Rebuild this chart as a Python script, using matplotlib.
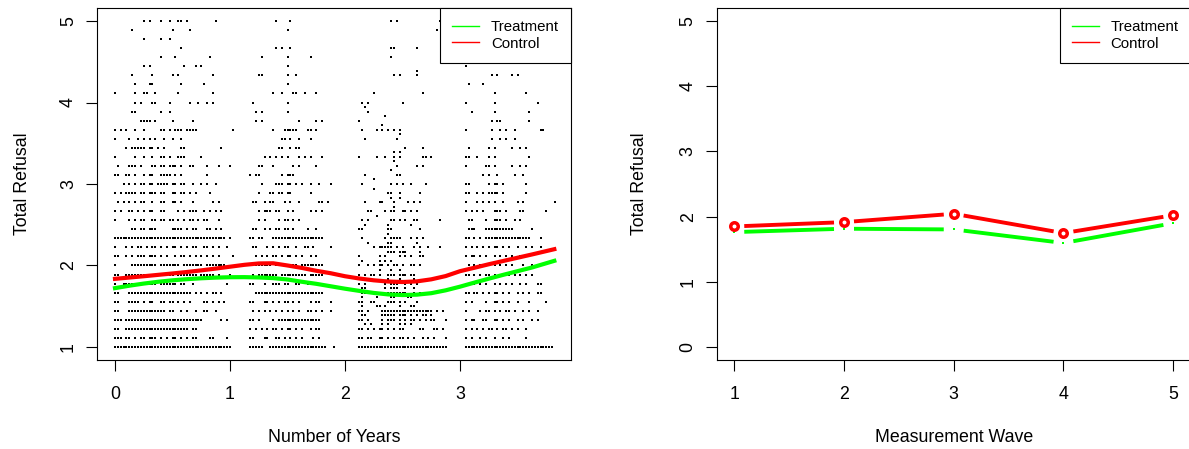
import numpy as np
import matplotlib
matplotlib.use("Agg")
import matplotlib.pyplot as plt
from matplotlib.lines import Line2D

plt.rcParams['font.family'] = ['Liberation Sans', 'DejaVu Sans']

# ---- left panel: individual scores ----
# key k -> Total Refusal = 1 + k/9 ; columns c -> Number of Years = c/40
scatter_rows = {
    36: "10 12 16 19 22 23 25 35 56 61 96 98 113",
    35: "6 20 26 60 112",
    34: "10 16 19",
    33: "23 56 58 61 96 97 105",
    32: "16 21 33 51 60 68 96",
    31: "10 12 24 28 30 60 122",
    30: "6 13 20 22 34 50 51 60 63 97 99 105 131 133 138 140",
    29: "7 12 13 23 31 60 123 128",
    28: "0 7 10 11 14 22 34 55 58 62 63 66 70 90 107 132 143",
    27: "7 9 13 14 19 26 29 32 34 48 60 86 88 100 122 132 147",
    26: "6 7 16 19 49 51 60 88 124 132 144",
    25: "9-12 14 20 27 49 51 64 70 72 85 131 133 134 144",
    24: "0 2 4 7 10 16 17 19 21-23 25-28 41 55 59-63 67 68 70 86 91 93 95 97 99 122 131 134 136 139 148 149",
    23: "0 5 8 10 12 14 17 20 23 58 59 61 64 68 87 98 131 134 136 139",
    22: "4 6-10 12 13 15 17 23 24 37 57 58 61 63 64 101 107 123 130 132 138 141 143",
    21: "0 7 10 13 16 17 19 22-24 30 52 54 56 58 60 64 66 68 72 85 91 94 97 99 107 108 110 122 123 126 130 132 144",
    20: "1 5 6 7 9 13 14 16 17 19-21 23 26 27 32 36 40 50 51 55 62 64 70 98 105 107 122 129 130 132 138 141 143",
    19: "0 1 4 5 7 10 12 13 16-19 21 23 32 47 49 50 58 60-62 87 98 99 128 130 133 139 142",
    18: "3 5 7 9 10 12 13 15-18 20 21 23 24 27 30 32 35 51 56-58 60 61 63 65 68 71 75 86 96 98 100 103 108 122 123 130 132 133 135 143",
    17: "0 2 4-7 9 10 12-14 16 17 20 21 23 24 26 28 33 50 54 55 57 58 60 61 68 95 96 99 106 122 123 126 128 130-133 135 143",
    16: "1 3 5 7 9 10 13 16 17 20 21 23 27 34 36 48 49 52 54 55 59 61 64 71 72 74 87 92 93 97 102 104 106 122 126 128 130 132 135 140 142 153",
    15: "0 2 5 6 8 10 12 13 16 17 22 24 26-28 31 33 35 37 50 52-54 56 57 60 62 68 70 72 88 89 94 96 97 100 101 103 105 122 124 126 128 132-134 136 141 142 150",
    14: "0 5 7 9 10 13 14 16 17 19 20 22 24 26 27 29 31 32 36 50 52 57 59 60 62 64 86 88 96 97 99 101 104 105 113 123 124 129 132-134 136 139 141",
    13: "6 7 9 10 12-14 20-23 25 27 28 32 33 35 37 48 49 52 54 56 57 59 60 62 67 70 85 86 95 96 106 123-125 129-138 145",
    12: "0-38 40 47 48 50 51 55-72 86 94 96-99 103 105 107 122 123 125 127 129-144 148",
    11: "0 4 6 8 9 11 13 14 16 18 20 21 23 25 27 28 31 32 34 36 39 48 49 53 55 57 59 60 63 66 67 69 75 90 92-96 98 100 104 106 109 113 122 124 126 128 130 132 133 135 137 140 143 145 148",
    10: "0 1 4 6 8-10 12-14 16 18 21 23 24 26 28 30 32 34 36 41 49 51 53 55 56 58 60 61 63 65 68 70 85 92 94 99 101 103 106 107 122 124 125 127 129 132 134 136 138 141 144",
    9: "0 6-14 16-22 24-30 32-38 47-54 56-63 65-72 85 88 90 92 93 95 97 98 100 103 104 106 123 125 127 129 132 134 136 138 142 145",
    8: "0 1 4-12 14-20 22-28 30-34 36 40 48 50-56 58-66 68-72 85 87 89 90 92 95-97 99-101 103 104 122 123 125 127 129 130 132 134 136 137 139 141 143 145",
    7: "0 3-7 9-14 16-21 23 24 27 39 47 48 52 55-57 59 60 63 64 67 69 71 85 87 94 96-98 101 103 105 122 123 125 127 129 132 134 136 138 141 143 147 148",
    6: "0 1 5-26 28 30 32 34 35 37 49-72 86 87 95-101 104 106 122 123 125 126 128 130 132 133 135 137 140 142 144 147 148",
    5: "0 1 5-8 10 12 13 16 17 19 20 22 24 26 31 32 34 36 38 47 48 52 53 55 57 59 60 62 64 68 70 71 75 85 86 89 90 95-97 99 101 105 122 124 129 132 133 135 137 140 144 150",
    4: "0 1 5-17 19 20 23 25 28 31 32 35 48 50 52 54 56 58 60 62 64 67 68 70 72 75 85 86 88 93-110 112 114 122 127 129 130 132 134 136 137 139 142 144 147",
    3: "0-2 4-30 37 39 47 48 50 55 57-71 85 86 88 93 95-97 99 101 103 104 106 108 110 111 115 122 124 125 128 129 132 133 135 137 140 142 145 147",
    2: "0 1 4-25 27 28 47 49 51 53 55 56 58 60 61 63 65 68 70 71 85 86 88 90 92 93 95 97 99 100 106 107 111 112 114 122 124 126 128 130 131 133 135 136 138 140 143",
    1: "0-2 4 5 7 9 10 12-14 16 18 20 21 23 25 27 28 33 34 39 47 48 52 53 56 57 59 61 63 65 69 71 85 86 88 89 92 93 95 97 99 100 102 104 107 109 111 115 122 124 127 129 132 135 137 143",
    0: "0-40 47-51 54-73 76 85-115 122-152",
}
# third wave also has half steps: key h -> Total Refusal = 1 + h/18
half_rows = {
    61: "105", 53: "87", 51: "94", 49: "93", 47: "99", 43: "97 99", 41: "97",
    39: "96", 37: "90", 35: "90", 33: "96 99", 31: "97", 29: "91",
    27: "87 95 103", 25: "95", 23: "88 95 96 105", 21: "95-97 99-101 106",
    19: "86 92 94 96", 17: "92 96 99", 15: "86-88 95 99 104 112",
    13: "86 87 94 96-98 101 104", 11: "86 91 96 97 102 103",
    9: "86 91 92 94 99 103 104", 7: "86 87 93-97 99-101 103 105 107 108 110",
    5: "87 89 93 95 99 101 103",
}

# smoothed trends
years_fit = [0, 0.125, 0.25, 0.375, 0.5, 0.625, 0.75, 0.875, 1.0, 1.125, 1.25, 1.375, 1.5, 1.625,
             1.75, 1.875, 2.0, 2.125, 2.25, 2.375, 2.5, 2.625, 2.75, 2.875, 3.0, 3.125, 3.25,
             3.375, 3.5, 3.625, 3.82]
control_fit = [1.836, 1.852, 1.868, 1.885, 1.902, 1.92, 1.94, 1.962, 1.985, 2.008, 2.025, 2.027,
               2.0, 1.97, 1.935, 1.905, 1.868, 1.84, 1.818, 1.803, 1.797, 1.805, 1.83, 1.87,
               1.93, 1.972, 2.015, 2.055, 2.095, 2.135, 2.20]
treatment_fit = [1.722, 1.752, 1.778, 1.80, 1.818, 1.832, 1.843, 1.851, 1.856, 1.857, 1.853, 1.845,
                 1.828, 1.80, 1.775, 1.745, 1.715, 1.688, 1.663, 1.645, 1.637, 1.642, 1.66, 1.695,
                 1.74, 1.79, 1.838, 1.885, 1.93, 1.975, 2.057]

# ---- right panel: wave means ----
waves = [1, 2, 3, 4, 5]
control_mean = [1.849, 1.915, 2.043, 1.747, 2.021]
treatment_mean = [1.762, 1.814, 1.803, 1.595, 1.899]

GREEN = '#00ff00'
RED = '#ff0000'


def cols(spec):
    out = []
    for tok in spec.split():
        if '-' in tok:
            a, b = tok.split('-')
            out.extend(range(int(a), int(b) + 1))
        else:
            out.append(int(tok))
    return out


def type_b(ax, x, y, color, gap_px, lw):
    # R style type="b": segments stop short of the points
    trans = ax.transData
    inv = trans.inverted()
    pts = trans.transform(np.column_stack([x, y]))
    for p0, p1 in zip(pts[:-1], pts[1:]):
        d = p1 - p0
        u = d / np.hypot(*d)
        seg = inv.transform([p0 + u * gap_px, p1 - u * gap_px])
        ax.plot(seg[:, 0], seg[:, 1], color=color, lw=lw, solid_capstyle='butt')


def style(ax):
    for s in ax.spines.values():
        s.set_linewidth(0.8)
    ax.tick_params(direction='out', length=7.9, width=0.8, labelsize=12.8, colors='black')
    ax.tick_params(axis='x', pad=11.0)
    ax.tick_params(axis='y', pad=6.5, labelrotation=90)
    for lab in ax.get_yticklabels():
        lab.set_va('center')


def legend(ax):
    handles = [Line2D([], [], color=GREEN, lw=1.0), Line2D([], [], color=RED, lw=1.0)]
    leg = ax.legend(handles, ['Treatment', 'Control'], loc='upper right', bbox_to_anchor=(1, 1),
                    borderaxespad=0, fancybox=False, edgecolor='black', framealpha=1,
                    fontsize=10.8, handlelength=1.8, handletextpad=0.8, borderpad=0.8,
                    labelspacing=0.17)
    leg.get_frame().set_linewidth(0.8)


W, H, DPI = 1189, 449, 100
fig = plt.figure(figsize=(W / DPI, H / DPI), dpi=DPI)

# left panel
ax1 = fig.add_axes([97 / W, 89 / H, 474 / W, 352 / H])
sx, sy = [], []
for k, spec in scatter_rows.items():
    for c in cols(spec):
        sx.append(c / 40)
        sy.append(1 + k / 9)
for h, spec in half_rows.items():
    for c in cols(spec):
        sx.append(c / 40)
        sy.append(1 + h / 18)
ax1.plot(sx, sy, ls='none', marker='s', ms=1.45, mew=0, color='black')
ax1.plot(years_fit, treatment_fit, color=GREEN, lw=3, solid_joinstyle='round')
ax1.plot(years_fit, control_fit, color=RED, lw=3, solid_joinstyle='round')
ax1.set_xlim(-0.1565, 3.965)
ax1.set_ylim(0.84, 5.16)
ax1.set_xticks([0, 1, 2, 3])
ax1.set_yticks([1, 2, 3, 4, 5])
style(ax1)
legend(ax1)

# right panel
ax2 = fig.add_axes([716.7 / W, 89 / H, 474.1 / W, 352 / H])
ax2.set_xlim(0.84, 5.16)
ax2.set_ylim(-0.2, 5.2)
ax2.set_xticks(waves)
ax2.set_yticks([0, 1, 2, 3, 4, 5])
type_b(ax2, waves, treatment_mean, GREEN, 10, 2.8)
type_b(ax2, waves, control_mean, RED, 10, 2.8)
ax2.plot(waves, treatment_mean, ls='none', marker='s', ms=1.6, mew=0, color=GREEN)
ax2.plot(waves, control_mean, ls='none', marker='o', ms=5.4, mew=2.5, mfc='none', mec=RED)
style(ax2)
legend(ax2)

# axis titles
fig.text(22.7 / W, 1 - 184 / H, 'Total Refusal', rotation=90, ha='center', va='center', fontsize=12.8)
fig.text(639.3 / W, 1 - 184 / H, 'Total Refusal', rotation=90, ha='center', va='center', fontsize=12.8)
fig.text(334 / W, 1 - 437.5 / H, 'Number of Years', ha='center', va='center', fontsize=12.8)
fig.text(953.7 / W, 1 - 437.5 / H, 'Measurement Wave', ha='center', va='center', fontsize=12.8)

fig.savefig('out.png', dpi=DPI)
